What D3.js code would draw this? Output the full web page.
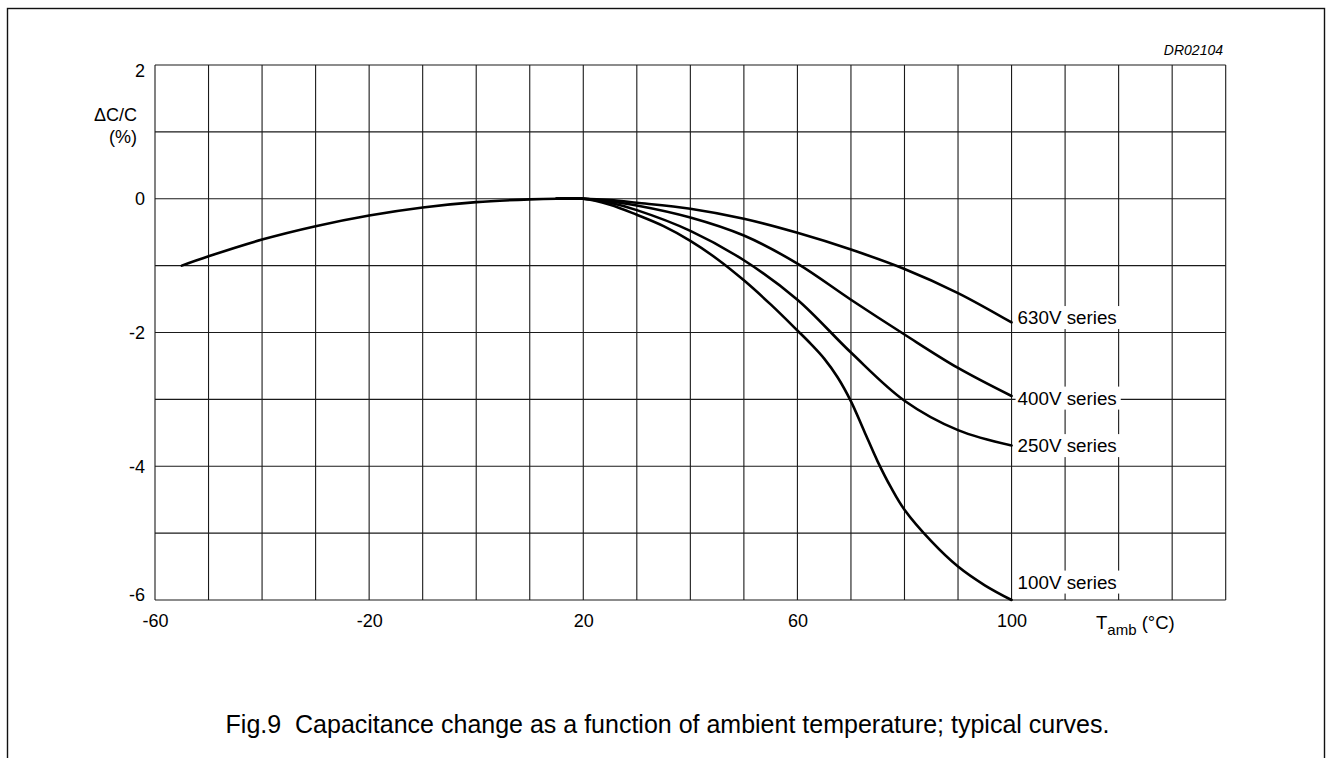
<!DOCTYPE html>
<html>
<head>
<meta charset="utf-8">
<script src="https://cdn.jsdelivr.net/npm/d3@7"></script>
<style>
  html, body { margin: 0; padding: 0; background: #fff; }
  svg { display: block; font-family: "Liberation Sans", Arial, sans-serif; }
</style>
</head>
<body>
<svg id="chart" width="1329" height="758"></svg>
<script>
// ---- data ----
const xTickValues = [-60, -20, 20, 60, 100];
const yTickValues = [2, 0, -2, -4, -6];
const xGridValues = [-60, -50, -40, -30, -20, -10, 0, 10, 20, 30, 40, 50, 60, 70, 80, 90, 100, 110, 120, 130, 140];
const yGridValues = [2, 1, 0, -1, -2, -3, -4, -5, -6];

// common low-temperature part (all series)
const commonT = [-55, -50, -40, -30, -20, -10, 0, 10, 15, 20];
const commonV = [-1.0, -0.86, -0.61, -0.41, -0.25, -0.13, -0.05, -0.01, 0, 0];

// branches above 20 °C
const seriesNames = ["630V series", "400V series", "250V series", "100V series"];
const branchT = [15, 20, 25, 30, 40, 50, 60, 70, 80, 90, 100];
const v630 = [0, 0, -0.02, -0.06, -0.15, -0.30, -0.51, -0.76, -1.05, -1.41, -1.85];
const v400 = [0, 0, -0.04, -0.10, -0.28, -0.55, -0.97, -1.51, -2.03, -2.53, -2.95];
const v250 = [0, 0, -0.06, -0.17, -0.48, -0.92, -1.51, -2.30, -3.02, -3.46, -3.69];
const t100 = [15, 20, 25, 30, 35, 40, 45, 50, 55, 60, 62.5, 65, 67.5, 70, 72.5, 75, 77.5, 80, 85, 90, 95, 100];
const v100 = [0, 0, -0.09, -0.24, -0.41, -0.63, -0.90, -1.22, -1.58, -1.97, -2.17, -2.39, -2.67, -3.03, -3.48, -3.93, -4.32, -4.65, -5.12, -5.5, -5.78, -6.0];

(function () {
// ---- layout ----
const svg = d3.select("#chart");
const pL = 155, pR = 1225.7, pT = 65, pB = 600;
const x = d3.scaleLinear().domain([-60, 140]).range([pL, pR]);
const y = d3.scaleLinear().domain([-6, 2]).range([pB, pT]);
const fmt = d => String(d);

// outer frame
svg.append("rect").attr("x", 7.5).attr("y", 8.5).attr("width", 1317).attr("height", 800)
  .attr("fill", "none").attr("stroke", "#111").attr("stroke-width", 1.4);

// grid
const grid = svg.append("g").attr("stroke", "#1a1a1a").attr("stroke-width", 1.1);
grid.selectAll("line.v").data(xGridValues).join("line").attr("class", "v")
  .attr("x1", d => x(d)).attr("x2", d => x(d)).attr("y1", pT).attr("y2", pB);
grid.selectAll("line.h").data(yGridValues).join("line").attr("class", "h")
  .attr("y1", d => y(d)).attr("y2", d => y(d)).attr("x1", pL).attr("x2", pR);

// axes labels (ticks)
const fontTick = 18;
const yAxis = d3.axisLeft(y).tickValues(yTickValues).tickSize(0).tickPadding(10).tickFormat(fmt);
const gy = svg.append("g").attr("transform", `translate(${pL},0)`).call(yAxis);
gy.select(".domain").remove();
gy.selectAll("text").attr("font-size", fontTick).attr("fill", "#000")
  .attr("font-family", "Liberation Sans, Arial, sans-serif")
  .attr("dy", (d, i) => i === 0 ? "0.62em" : (i === yTickValues.length - 1 ? "0.02em" : "0.34em"));

const xAxis = d3.axisBottom(x).tickValues(xTickValues).tickSize(0).tickPadding(14).tickFormat(fmt);
const gx = svg.append("g").attr("transform", `translate(0,${pB})`).call(xAxis);
gx.select(".domain").remove();
gx.selectAll("text").attr("font-size", fontTick).attr("fill", "#000")
  .attr("font-family", "Liberation Sans, Arial, sans-serif");

// y axis title
svg.append("text").attr("x", 137).attr("y", 121).attr("text-anchor", "end")
  .attr("font-size", 18).text("\u0394C/C");
svg.append("text").attr("x", 137).attr("y", 143).attr("text-anchor", "end")
  .attr("font-size", 18).text("(%)");

// x axis title
const xt = svg.append("text").attr("x", 1096).attr("y", 629).attr("font-size", 18.5);
xt.append("tspan").text("T");
xt.append("tspan").attr("font-size", 15).attr("dy", 6).text("amb");
xt.append("tspan").attr("dy", -6).text(" (\u00B0C)");

// drawing id
svg.append("text").attr("x", 1223).attr("y", 55).attr("text-anchor", "end")
  .attr("font-size", 14).attr("font-style", "italic").text("DR02104");

// curves
const line = d3.line().x(d => x(d[0])).y(d => y(d[1])).curve(d3.curveCatmullRom.alpha(0.5));
const curves = [
  d3.zip(commonT, commonV),
  d3.zip(branchT, v630),
  d3.zip(branchT, v400),
  d3.zip(branchT, v250),
  d3.zip(t100, v100)
];
svg.append("g").selectAll("path").data(curves).join("path")
  .attr("d", line).attr("fill", "none").attr("stroke", "#000")
  .attr("stroke-width", 2.6).attr("stroke-linejoin", "round").attr("stroke-linecap", "round");

// series labels with white background
const endValues = [v630[v630.length - 1], v400[v400.length - 1], v250[v250.length - 1], v100[v100.length - 1]];
const labelDy = [-5, 2, 0, -18];
const lg = svg.append("g");
seriesNames.forEach((name, i) => {
  const cy = y(endValues[i]) + labelDy[i];
  const t = lg.append("text").attr("x", x(100) + 6).attr("y", cy).attr("dy", "0.35em")
    .attr("font-size", 18.8).text(name);
  const bb = t.node().getBBox();
  lg.insert("rect", "text").attr("x", bb.x - 2).attr("y", bb.y - 1)
    .attr("width", bb.width + 6).attr("height", bb.height + 2).attr("fill", "#fff");
});

// caption
svg.append("text").attr("x", 667.5).attr("y", 733).attr("text-anchor", "middle")
  .attr("font-size", 25)
  .text("Fig.9\u00A0\u00A0Capacitance change as a function of ambient temperature; typical curves.");
})();
</script>
</body>
</html>
